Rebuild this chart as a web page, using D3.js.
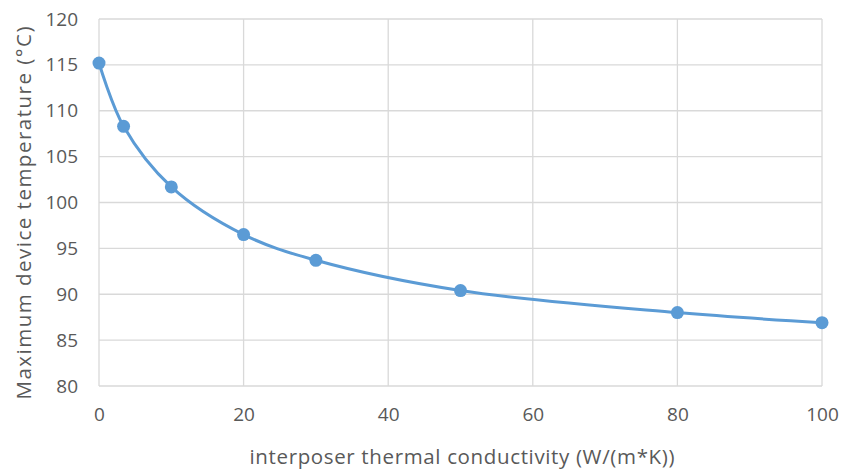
<!DOCTYPE html>
<html>
<head>
<meta charset="utf-8">
<script src="https://cdn.jsdelivr.net/npm/d3@7"></script>
<style>
  html, body { margin: 0; padding: 0; background: #fff; }
  svg { display: block; }
  text { font-family: "Open Sans", "Segoe UI", sans-serif; fill: #595959; }
</style>
</head>
<body>
<svg id="chart" width="841" height="473"></svg>
<script>
// Interposer thermal conductivity (W/(m*K)) vs. maximum device temperature (°C)
const conductivity = [0, 3.4, 10, 20, 30, 50, 80, 100];
const maxTemperature = [115.2, 108.3, 101.7, 96.5, 93.7, 90.4, 88.0, 86.9];
const xTicks = [0, 20, 40, 60, 80, 100];
const yTicks = [80, 85, 90, 95, 100, 105, 110, 115, 120];
const xTitle = "interposer thermal conductivity (W/(m*K))";
const yTitle = "Maximum device temperature (°C)";

const svg = d3.select("#chart");
const margin = { left: 99, right: 19, top: 19, bottom: 87 };
const W = 841, H = 473;

const x = d3.scaleLinear().domain([0, 100]).range([margin.left, W - margin.right]);
const y = d3.scaleLinear().domain([80, 120]).range([H - margin.bottom, margin.top]);

const gridColor = "#d9d9d9";
const tickFont = 19;
const titleFont = 20.5;

// horizontal gridlines
svg.append("g")
  .selectAll("line")
  .data(yTicks)
  .join("line")
  .attr("x1", x(0)).attr("x2", x(100))
  .attr("y1", d => y(d)).attr("y2", d => y(d))
  .attr("stroke", gridColor).attr("stroke-width", 1.3);

// vertical gridlines
svg.append("g")
  .selectAll("line")
  .data(xTicks)
  .join("line")
  .attr("x1", d => x(d)).attr("x2", d => x(d))
  .attr("y1", y(80)).attr("y2", y(120))
  .attr("stroke", gridColor).attr("stroke-width", 1.3);

// y axis labels
const yAxis = svg.append("g")
  .attr("transform", `translate(${x(0)},0)`)
  .call(d3.axisLeft(y).tickValues(yTicks).tickSize(0).tickPadding(21));
yAxis.select(".domain").remove();
yAxis.selectAll("text").attr("font-size", tickFont).attr("fill", "#595959")
  .style("font-family", "'Open Sans', sans-serif");

// x axis labels
const xAxis = svg.append("g")
  .attr("transform", `translate(0,${y(80)})`)
  .call(d3.axisBottom(x).tickValues(xTicks).tickSize(0).tickPadding(22));
xAxis.select(".domain").remove();
xAxis.selectAll("text").attr("font-size", tickFont).attr("fill", "#595959")
  .style("font-family", "'Open Sans', sans-serif");

// axis titles
svg.append("text")
  .attr("x", 462).attr("y", 464)
  .attr("text-anchor", "middle")
  .attr("font-size", titleFont)
  .attr("textLength", 425)
  .attr("lengthAdjust", "spacing")
  .text(xTitle);

svg.append("text")
  .attr("transform", `translate(31,213) rotate(-90)`)
  .attr("text-anchor", "middle")
  .attr("font-size", titleFont)
  .attr("textLength", 373)
  .attr("lengthAdjust", "spacing")
  .text(yTitle);

// smoothed series line
const line = d3.line()
  .x((d, i) => x(conductivity[i]))
  .y(d => y(d))
  .curve(d3.curveCatmullRom.alpha(0.5));

const blue = "#5b9bd5";
svg.append("path")
  .datum(maxTemperature)
  .attr("d", line)
  .attr("fill", "none")
  .attr("stroke", blue)
  .attr("stroke-width", 3);

// markers
svg.append("g")
  .selectAll("circle")
  .data(maxTemperature)
  .join("circle")
  .attr("cx", (d, i) => x(conductivity[i]))
  .attr("cy", d => y(d))
  .attr("r", 6.5)
  .attr("fill", blue);
</script>
</body>
</html>
